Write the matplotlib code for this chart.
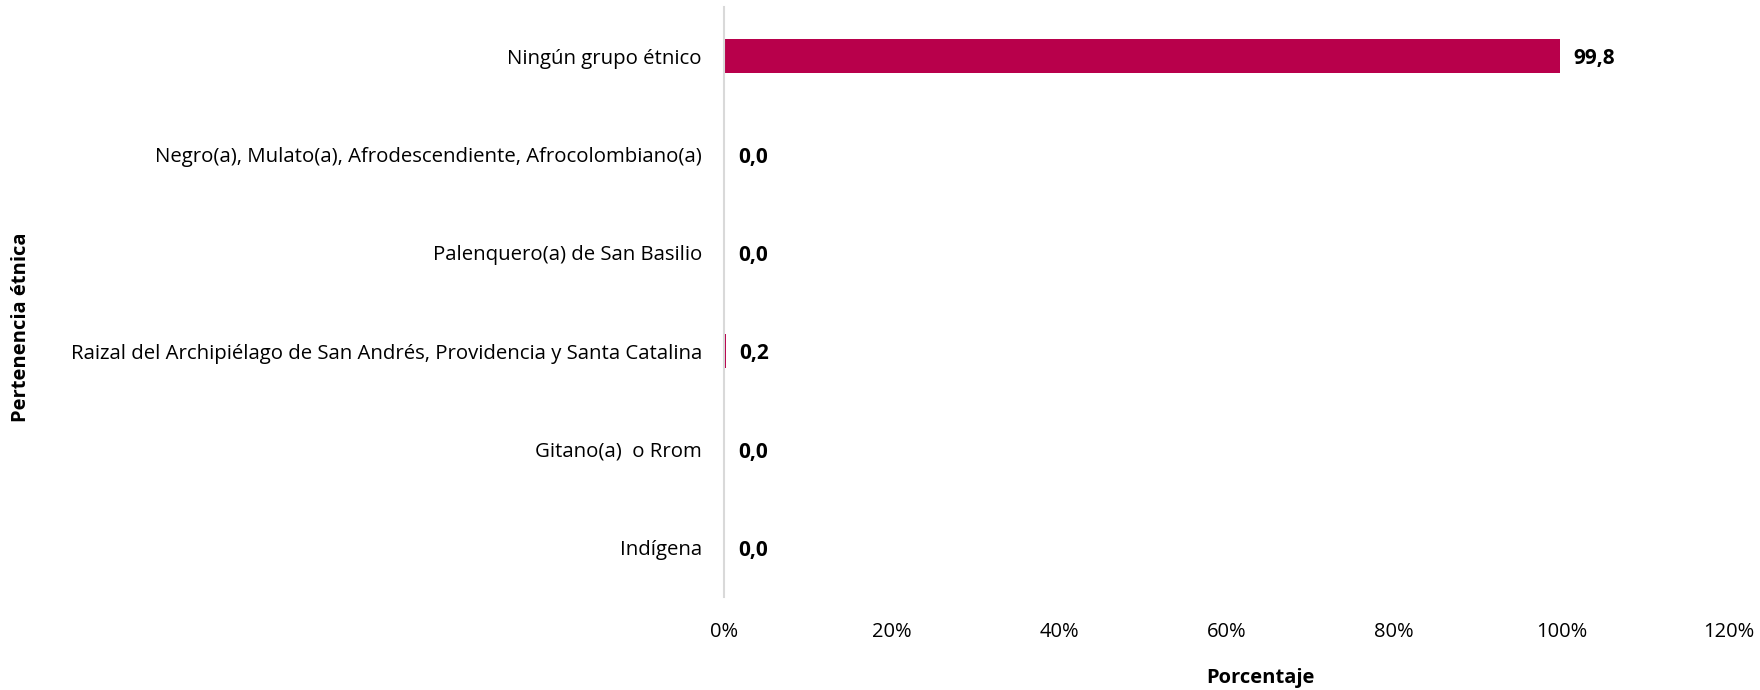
import matplotlib
matplotlib.use("Agg")
import matplotlib.pyplot as plt
from matplotlib.ticker import FuncFormatter

# ========== Datos ==========
categorias = ["Indígena",
              "Gitano(a)  o Rrom",
              "Raizal del Archipiélago de San Andrés, Providencia y Santa Catalina",
              "Palenquero(a) de San Basilio",
              "Negro(a), Mulato(a), Afrodescendiente, Afrocolombiano(a)",
              "Ningún grupo étnico"]
porcentajes = [0.0, 0.0, 0.2, 0.0, 0.0, 99.8]
etiquetas = ["0,0", "0,0", "0,2", "0,0", "0,0", "99,8"]
ticks_x = [0, 20, 40, 60, 80, 100, 120]

color_barra = "#B8004B"
plt.rcParams['font.family'] = ['Open Sans', 'DejaVu Sans']

fig = plt.figure(figsize=(17.6, 6.9), dpi=100)
ax = fig.add_axes([0.4114, 0.1348, 0.5710, 0.8551])

y = list(range(len(categorias)))
ax.barh(y, porcentajes, height=0.35, color=color_barra)

# etiquetas de valor
for yi, val, txt in zip(y, porcentajes, etiquetas):
    ax.annotate(txt, xy=(val, yi), xytext=(10, -2), textcoords="offset points",
                va="center", ha="left", fontsize=15, fontweight="bold", color="black")

ax.set_xlim(0, 120)
ax.set_ylim(-0.5, len(categorias) - 0.5)
ax.set_xticks(ticks_x)
ax.xaxis.set_major_formatter(FuncFormatter(lambda v, p: f"{v:.0f}%"))
ax.set_yticks(y)
ax.set_yticklabels(categorias, fontsize=14.7)

for s in ["top", "right", "bottom"]:
    ax.spines[s].set_visible(False)
ax.spines["left"].set_color("#D9D9D9")
ax.spines["left"].set_linewidth(1.5)
ax.tick_params(axis="y", length=0, pad=16)
ax.tick_params(axis="x", length=0, pad=18, labelsize=14.5)

fig.text(0.7159, 0.018, "Porcentaje", ha="center", va="center", fontsize=14.5, fontweight="bold")
fig.text(0.012, 0.526, "Pertenencia étnica", ha="center", va="center", rotation=90,
         fontsize=14.5, fontweight="bold")

fig.savefig("out.png", dpi=100)
